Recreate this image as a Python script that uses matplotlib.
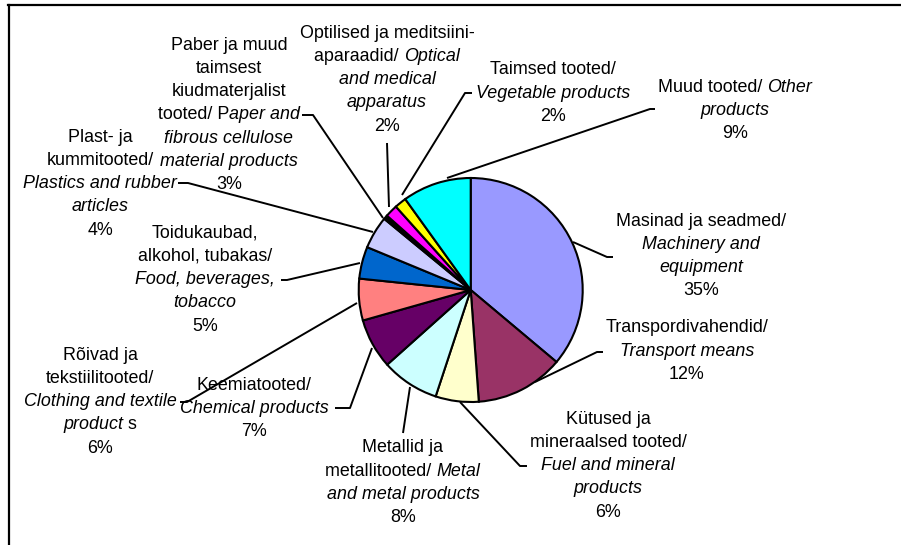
import matplotlib
matplotlib.use("Agg")
import matplotlib.pyplot as plt

plt.rcParams['font.family'] = ['Liberation Sans', 'DejaVu Sans']

# slice shares (clockwise from 12 o'clock)
names = ["Masinad", "Transport", "Kütused", "Metallid", "Keemia", "Rõivad",
         "Toidu", "Plast", "Paber", "Optilised", "Taimsed", "Muud"]
shares = [36.0, 12.7, 6.2, 8.3, 7.2, 6.0, 4.6, 4.7, 0.6, 1.8, 1.7, 9.9]
colors = ["#9999FF", "#993366", "#FFFFCC", "#CCFFFF", "#660066", "#FF8080",
          "#0066CC", "#CCCCFF", "#000000", "#FF00FF", "#FFFF00", "#00FFFF"]

# label lines: list of (text, italic) segments per line
label_lines = [
    [[("Masinad ja seadmed/", 0)], [("Machinery and", 1)], [("equipment", 1)], [("35%", 0)]],
    [[("Transpordivahendid/", 0)], [("Transport means", 1)], [("12%", 0)]],
    [[("Kütused ja", 0)], [("mineraalsed tooted/", 0)], [("Fuel and mineral", 1)],
     [("products", 1)], [("6%", 0)]],
    [[("Metallid ja", 0)], [("metallitooted/ ", 0), ("Metal", 1)], [("and metal products", 1)],
     [("8%", 0)]],
    [[("Keemiatooted/", 0)], [("Chemical products", 1)], [("7%", 0)]],
    [[("Rõivad ja", 0)], [("tekstiilitooted/", 0)], [("Clothing and textile", 1)],
     [("product", 1), (" s", 0)], [("6%", 0)]],
    [[("Toidukaubad,", 0)], [("alkohol, tubakas/", 0)], [("Food, beverages,", 1)],
     [("tobacco", 1)], [("5%", 0)]],
    [[("Plast- ja", 0)], [("kummitooted/", 0)], [("Plastics and rubber", 1)],
     [("articles", 1)], [("4%", 0)]],
    [[("Paber ja muud", 0)], [("taimsest", 0)], [("kiudmaterjalist", 0)],
     [("tooted/ P", 0), ("aper and", 1)], [("fibrous cellulose", 1)],
     [("material products", 1)], [("3%", 0)]],
    [[("Optilised ja meditsiini-", 0)], [("aparaadid/ ", 0), ("Optical", 1)],
     [("and medical", 1)], [("apparatus", 1)], [("2%", 0)]],
    [[("Taimsed tooted/", 0)], [("Vegetable products", 1)], [("2%", 0)]],
    [[("Muud tooted/ ", 0), ("Other", 1)], [("products", 1)], [("9%", 0)]],
]

# layout (pixel positions): label centre x, first line y
label_pos = [(701, 221), (687, 328), (608, 419), (403, 448), (254, 385), (100, 355),
             (205, 233), (100, 137), (229, 45), (387, 33), (553, 70), (735, 87)]
leaders = [
    [(573, 242), (607, 257), (613, 257)],
    [(535, 382), (597, 352), (603, 352)],
    [(460, 402), (520, 466), (527, 466)],
    [(410, 387), (403, 433)],
    [(372, 348), (350, 408), (335, 408)],
    [(357, 303), (187, 402), (180, 402)],
    [(360, 263), (287, 280), (281, 280)],
    [(373, 232), (188, 183), (178, 183)],
    [(383, 218), (313, 115), (302, 115)],
    [(389, 207), (387, 143)],
    [(402, 195), (465, 93), (472, 93)],
    [(447, 178), (650, 109), (655, 109)],
]
W, H = 901, 545
cx, cy, rad = 470.7, 290, 112
line_h = 23.3
fs = 12.9

fig = plt.figure(figsize=(W / 100, H / 100), dpi=100)
ax = fig.add_axes([0, 0, 1, 1])
ax.pie(shares, colors=colors, startangle=-90, counterclock=True,
       center=(cx, cy), radius=rad, frame=True,
       wedgeprops=dict(edgecolor="black", linewidth=1.5))
ax.set_xlim(0, W)
ax.set_ylim(H, 0)
ax.set_aspect("auto")
ax.axis("off")

# chart border (only top and left edges are visible)
ax.plot([8, W], [5, 5], color="black", lw=1.6, clip_on=False)
ax.plot([9, 9], [5, H], color="black", lw=1.6, clip_on=False)

for pts in leaders:
    ax.plot([p[0] for p in pts], [p[1] for p in pts], color="black", lw=1.4,
            solid_capstyle="butt")

renderer = fig.canvas.get_renderer()


def text_width(s, italic):
    # advance width, including leading/trailing spaces
    t1 = ax.text(0, 0, s + "|", fontsize=fs, fontstyle="italic" if italic else "normal")
    t2 = ax.text(0, 0, "|", fontsize=fs, fontstyle="italic" if italic else "normal")
    w = t1.get_window_extent(renderer).width - t2.get_window_extent(renderer).width
    t1.remove()
    t2.remove()
    return w


for lines, (x, y0) in zip(label_lines, label_pos):
    for i, segs in enumerate(lines):
        widths = [text_width(s, it) for s, it in segs]
        xs = x - sum(widths) / 2
        y = y0 + i * line_h
        for (s, it), w in zip(segs, widths):
            ax.text(xs, y, s, fontsize=fs, fontstyle="italic" if it else "normal",
                    ha="left", va="center", color="black")
            xs += w

fig.savefig("out.png", dpi=100)
